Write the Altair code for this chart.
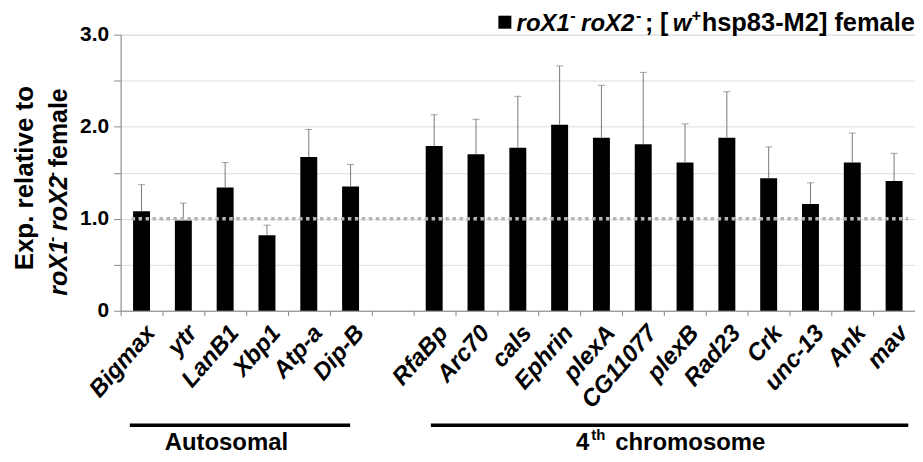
import altair as alt
import pandas as pd

# ---------------- data ----------------
genes = ["Bigmax", "ytr", "LanB1", "Xbp1", "Atp-a", "Dip-B",
         "RfaBp", "Arc70", "cals", "Ephrin", "plexA", "CG11077",
         "plexB", "Rad23", "Crk", "unc-13", "Ank", "mav"]
means = [1.08, 0.98, 1.34, 0.82, 1.67, 1.35,
         1.79, 1.70, 1.77, 2.02, 1.88, 1.81,
         1.61, 1.88, 1.44, 1.16, 1.61, 1.41]
upper = [1.37, 1.17, 1.61, 0.93, 1.97, 1.59,
         2.13, 2.08, 2.33, 2.66, 2.45, 2.59,
         2.03, 2.38, 1.78, 1.39, 1.93, 1.71]
GAP = "gap"
order = genes[:6] + [GAP] + genes[6:]
y_ticks = [0, 0.5, 1.0, 1.5, 2.0, 2.5, 3.0]
reference_level = [1.0]

legend_pieces = ["roX1", "-", "roX2", "-", "; [", "w", "+", "hsp83-M2] female"]
ytitle_line1 = "Exp. relative to"
ytitle_line2 = ["roX1", "-", "roX2", "-", "female"]
group_names = ["Autosomal", "4", "th", "chromosome"]

df = pd.DataFrame({"gene": genes, "mean": means, "upper": upper})

FONT = "Liberation Sans"
xscale = alt.Scale(domain=order, paddingInner=0, paddingOuter=0)
yscale = alt.Scale(domain=[0, 3], nice=False)

base = alt.Chart(df)

bars = base.mark_bar(color="black", size=17).encode(
    x=alt.X("gene:N", scale=xscale, title=None,
            axis=alt.Axis(labelAngle=-49, labelAlign="right", labelBaseline="top",
                          labelFontStyle="italic", labelFontWeight="bold",
                          labelFontSize=24, labelPadding=5, tickSize=5,
                          tickBand="extent", labelOverlap=False, labelBound=False,
                          labelLimit=300, labelColor="black",
                          labelExpr="datum.value == 'gap' ? '' : datum.value")),
    y=alt.Y("mean:Q", scale=yscale, title=None,
            axis=alt.Axis(values=y_ticks, tickSize=7, labelPadding=5,
                          labelFontSize=21, labelFontWeight="bold", labelColor="black",
                          labelExpr="datum.value == 0 ? '0' : (datum.value % 1 == 0 ? format(datum.value, '.1f') : '')")),
)

err = base.mark_rule(color="#7a7a7a", strokeWidth=1).encode(
    x=alt.X("gene:N", scale=xscale),
    y=alt.Y("mean:Q", scale=yscale),
    y2="upper:Q",
)
caps = base.mark_tick(color="#7a7a7a", size=7, thickness=1).encode(
    x=alt.X("gene:N", scale=xscale),
    y=alt.Y("upper:Q", scale=yscale),
)

ref = alt.Chart(pd.DataFrame({"v": reference_level})).mark_rule(
    color="#b5b5b5", strokeWidth=3.5, strokeDash=[3.5, 3.5]
).encode(y=alt.Y("v:Q", scale=yscale), x=alt.value(11), x2=alt.value(790))

# group spans under the axis
def span(start, end, bp1, bp2):
    d = pd.DataFrame({"s": [start], "e": [end]})
    return alt.Chart(d).mark_rule(color="black", strokeWidth=3.5).encode(
        x=alt.X("s:N", scale=xscale, bandPosition=bp1),
        x2=alt.X2("e:N", bandPosition=bp2),
        y=alt.value(392),
    )

span1 = span("Bigmax", "Dip-B", 0.22, 0.49)
span2 = span("RfaBp", "mav", 0.42, 0.84)

GY = 417
def gtext(gene, bp, label, align, size=24, dx=0, dy=0):
    d = pd.DataFrame({"g": [gene], "t": [label]})
    return alt.Chart(d).mark_text(font=FONT, fontWeight="bold", fontSize=size,
                                  align=align, baseline="alphabetic", dx=dx, dy=dy,
                                  color="black").encode(
        x=alt.X("g:N", scale=xscale, bandPosition=bp),
        y=alt.value(GY), text="t:N")

g1 = gtext("LanB1", 0.53, group_names[0], "center")
g2 = gtext("plexA", 0.21, group_names[1], "right")
g3 = gtext("plexA", 0.21, group_names[2], "left", size=15, dx=2, dy=-10)
g4 = gtext("plexA", 0.21, group_names[3], "left", dx=26)

# free text helper (annotation positions in pixels)
def ftext(label, x, y, style="normal", size=25, dx=0, dy=0, angle=0, align="left"):
    d = pd.DataFrame({"t": [label]})
    kw = dict(font=FONT, fontWeight="bold", fontSize=size, fontStyle=style,
              align=align, baseline="alphabetic", dx=dx, dy=dy, color="black")
    if angle:
        kw["angle"] = angle
    return alt.Chart(d).mark_text(**kw).encode(x=alt.value(x), y=alt.value(y), text="t:N")

# legend
lg_y = -4
legend_sq = alt.Chart(pd.DataFrame({"t": ["sq"]})).mark_square(
    color="black", size=170, opacity=1).encode(x=alt.value(385.5), y=alt.value(-12.5))
lx = [397.3, 451, 462, 517, 526, 554, 573, 583]
lstyle = ["italic", "normal", "italic", "normal", "normal", "italic", "normal", "normal"]
lsize = [24, 16, 24, 16, 25, 24, 16, 25.5]
ldy = [0, -10, 0, -10, 0, 0, -10, 0]
legend_layers = [ftext(t, x, lg_y, style=s, size=sz, dy=dy)
                 for t, x, s, sz, dy in zip(legend_pieces, lx, lstyle, lsize, ldy)]

# y title
yt1 = ftext(ytitle_line1, -87.7, 144, size=26, angle=270, align="center")
y2dx = [0, 54, 65, 119, 129]
y2style = ["italic", "normal", "italic", "normal", "normal"]
y2size = [25, 16, 25, 16, 25]
y2dy = [0, -10, 0, -10, 0]
yt2 = [ftext(t, -53.7, 262, style=s, size=sz, dx=dx, dy=dy, angle=270)
       for t, dx, s, sz, dy in zip(ytitle_line2, y2dx, y2style, y2size, y2dy)]

chart = alt.layer(
    bars, err, caps, ref, span1, span2, g1, g2, g3, g4,
    legend_sq, *legend_layers, yt1, *yt2
).properties(
    width=797, height=277,
    autosize=alt.AutoSizeParams(type="none"),
    padding={"left": 113, "top": 26, "right": 0, "bottom": 143},
).configure_view(stroke=None).configure_axis(
    grid=False, domainColor="#222", domainWidth=1.2, tickColor="#222", tickWidth=1,
    labelFont=FONT,
).configure(font=FONT)

chart.save("out.html", embed_options={"renderer": "svg", "actions": False})
